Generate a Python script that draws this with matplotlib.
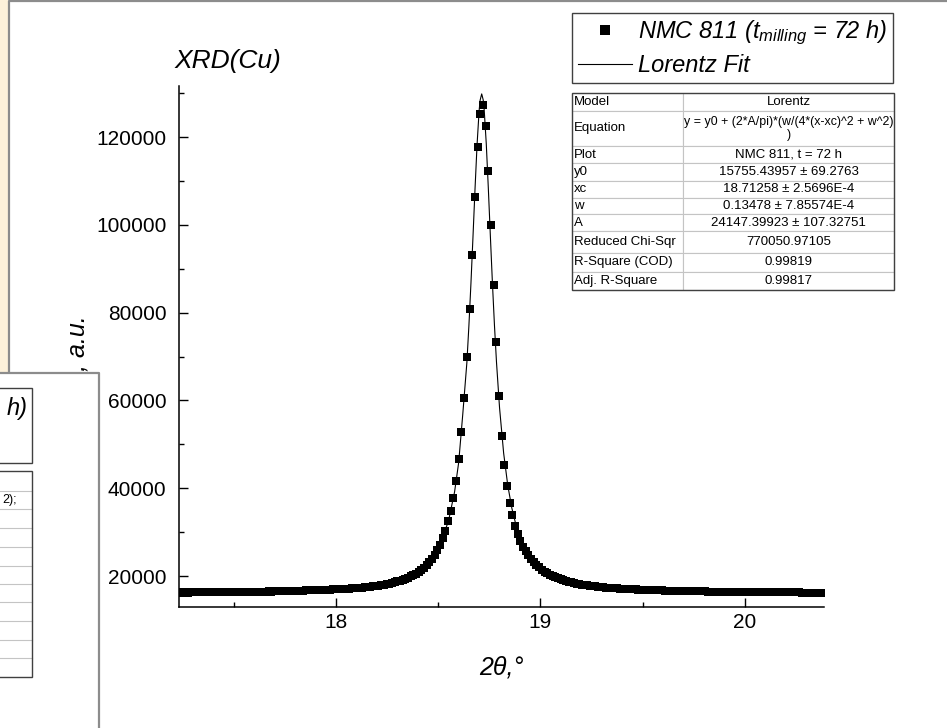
import matplotlib.pyplot as plt
from matplotlib.patches import Rectangle
from matplotlib.lines import Line2D
from matplotlib.ticker import MultipleLocator
import numpy as np

plt.rcParams['font.family'] = ['Liberation Sans', 'DejaVu Sans']
plt.rcParams['mathtext.fontset'] = 'custom'
plt.rcParams['mathtext.it'] = 'Liberation Sans:italic'
plt.rcParams['mathtext.rm'] = 'Liberation Sans'

W, H = 947, 728


def fx(px):
    return px / W


def fy(py):
    return 1 - py / H


# measured pattern, 2theta step of the scan
start_2theta = 17.2383
step_2theta = 0.0131
counts = [
    16250, 16240, 16260, 16230, 16270, 16250, 16280, 16260, 16270, 16290,
    16260, 16300, 16280, 16310, 16290, 16320, 16300, 16340, 16330, 16350,
    16330, 16370, 16360, 16380, 16370, 16400, 16390, 16420, 16410, 16440,
    16450, 16440, 16470, 16480, 16470, 16510, 16520, 16530, 16550, 16560,
    16570, 16600, 16610, 16620, 16650, 16660, 16690, 16700, 16720, 16750,
    16770, 16790, 16810, 16840, 16860, 16880, 16910, 16940, 16960, 16990,
    17020, 17050, 17090, 17130, 17170, 17220, 17270, 17320, 17380, 17440,
    17510, 17580, 17660, 17740, 17830, 17930, 18040, 18160, 18290, 18430,
    18580, 18750, 18940, 19140, 19360, 19610, 19900, 20220, 20560, 20960,
    21400, 21920, 22500, 23150, 23950, 24850, 25900, 27150, 28600, 30350,
    32450, 34880, 37770, 41700, 46650, 52900, 60600, 70000, 80900, 93100,
    106400, 117800, 125300, 127360, 122570, 112300, 99950, 86300, 73370, 61070,
    52000, 45400, 40400, 36700, 33800, 31500, 29600, 28000, 26700, 25600,
    24750, 23900, 23150, 22500, 21950, 21450, 21000, 20620, 20280, 19970,
    19700, 19450, 19230, 19030, 18850, 18690, 18540, 18400, 18280, 18160,
    18050, 17950, 17860, 17780, 17700, 17630, 17560, 17500, 17440, 17380,
    17330, 17280, 17230, 17190, 17150, 17110, 17070, 17030, 17000, 16970,
    16940, 16910, 16880, 16850, 16830, 16800, 16780, 16760, 16740, 16720,
    16700, 16680, 16660, 16650, 16630, 16610, 16600, 16590, 16570, 16560,
    16550, 16540, 16520, 16510, 16500, 16490, 16480, 16470, 16460, 16450,
    16440, 16430, 16420, 16420, 16410, 16400, 16390, 16380, 16380, 16370,
    16360, 16350, 16350, 16340, 16330, 16330, 16320, 16310, 16310, 16300,
    16300, 16290, 16290, 16280, 16280, 16270, 16270, 16260, 16260, 16250,
    16250, 16250, 16240, 16240, 16240, 16230, 16230, 16230, 16220, 16220,
    16220,
]
two_theta = np.round(start_2theta + step_2theta * np.arange(len(counts)), 4)

# Lorentz fit curve as drawn
fit_2theta = [17.232, 17.5, 17.75, 18.0, 18.2, 18.3, 18.4, 18.45, 18.5, 18.55,
              18.58, 18.6, 18.62, 18.64, 18.65, 18.66, 18.67, 18.68, 18.69, 18.70,
              18.705, 18.7126, 18.72, 18.725, 18.735, 18.745, 18.755, 18.765, 18.775, 18.785,
              18.80, 18.82, 18.84, 18.86, 18.88, 18.90, 18.95, 19.0, 19.1, 19.2,
              19.35, 19.5, 19.75, 20.0, 20.2, 20.387]
fit_counts = [15991, 16107, 16311, 16766, 17693, 18719, 20820, 22809, 26170, 32477,
              39169, 45839, 56821, 68548, 76984, 86635, 97251, 108187, 118286, 125965,
              128385, 129817, 128458, 126082, 118469, 108402, 97470, 86840, 77165, 68704,
              58284, 47977, 40693, 35475, 31662, 28816, 24261, 21700, 19105, 17895,
              17016, 16584, 16234, 16067, 15989, 15939]

fit_keys = ['Model', 'Equation', 'Plot', 'y0', 'xc', 'w', 'A',
            'Reduced Chi-Sqr', 'R-Square (COD)', 'Adj. R-Square']
fit_values = ['Lorentz',
              'y = y0 + (2*A/pi)*(w/(4*(x-xc)^2 + w^2)\n)',
              'NMC 811, t = 72 h',
              '15755.43957 ± 69.2763',
              '18.71258 ± 2.5696E-4',
              '0.13478 ± 7.85574E-4',
              '24147.39923 ± 107.32751',
              '770050.97105',
              '0.99819',
              '0.99817']
row_px = [18, 35, 17, 17.5, 17, 16.5, 17, 22, 19, 18]

fig = plt.figure(figsize=(9.47, 7.28), dpi=100)

# window chrome of the graph page
fig.add_artist(Rectangle((0, fy(373)), fx(8), 373 / H, transform=fig.transFigure,
                         facecolor='#fdf1da', edgecolor='none', zorder=1))
fig.add_artist(Line2D([fx(9), fx(9), fx(947)], [fy(373), fy(1), fy(1)],
                      transform=fig.transFigure, color='#8c8c8c', lw=1.6, zorder=1))

ax = fig.add_axes([fx(179), fy(607), fx(824) - fx(179), (607 - 86) / H])
fit_line, = ax.plot(fit_2theta, fit_counts, color='black', lw=0.8, zorder=2,
                    label='Lorentz Fit')
pts, = ax.plot(two_theta, counts, 's', color='black', ms=6, mew=0, zorder=3,
               label='NMC 811 ($t_{milling}$ = 72 h)')

ax.set_xlim(17.232, 20.387)
ax.set_ylim(12940, 131620)
ax.set_xticks([18, 19, 20])
ax.xaxis.set_minor_locator(MultipleLocator(0.5))
ax.set_yticks(np.arange(20000, 120001, 20000))
ax.yaxis.set_minor_locator(MultipleLocator(10000))
ax.tick_params(which='both', direction='in', width=1.0, labelsize=15)
ax.tick_params(which='major', length=6.5)
ax.tick_params(which='minor', length=3.6)
ax.tick_params(axis='y', pad=9)
ax.tick_params(axis='x', pad=4)
for s in ['top', 'right']:
    ax.spines[s].set_visible(False)
for s in ['left', 'bottom']:
    ax.spines[s].set_linewidth(1.1)

ax.set_xlabel('2θ,°', fontsize=18, style='italic')
ax.set_ylabel('I, a.u.', fontsize=18, style='italic')
ax.xaxis.set_label_coords(0.5, -0.094)
ax.yaxis.set_label_coords(-0.138, 0.5)

fig.text(fx(175), fy(68), 'XRD(Cu)', fontsize=19, style='italic', va='baseline')

leg = ax.legend(handles=[pts, fit_line], loc='upper left',
                bbox_to_anchor=(fx(572), fy(13)), bbox_transform=fig.transFigure,
                prop={'size': 17, 'style': 'italic'}, fancybox=False,
                edgecolor='#404040', framealpha=1, borderpad=0.25,
                handlelength=2.3, handletextpad=0.25, labelspacing=0.3,
                borderaxespad=0, markerscale=1.1)
leg.get_frame().set_linewidth(1.0)

# fit results table
tab_ax = fig.add_axes([fx(572), fy(290), fx(894) - fx(572), (290 - 93) / H])
tab_ax.axis('off')
tbl = tab_ax.table(cellText=[[k, v] for k, v in zip(fit_keys, fit_values)],
                   colWidths=[111, 211], cellLoc='center', bbox=[0, 0, 1, 1])
tbl.auto_set_font_size(False)
tbl.set_fontsize(9.5)
for (r, c), cell in tbl.get_celld().items():
    cell.set_height(row_px[r])
    cell.set_edgecolor('#c4c4c4')
    cell.set_linewidth(0.8)
    cell.PAD = 0.02
    if c == 0:
        cell.get_text().set_ha('left')
    if r == 1 and c == 1:
        cell.get_text().set_fontsize(8.9)
        cell.get_text().set_linespacing(1.05)
tab_ax.add_patch(Rectangle((0, 0), 1, 1, transform=tab_ax.transAxes, fill=False,
                           edgecolor='#404040', lw=1.0, clip_on=False, zorder=5))

# second graph window overlapping in the lower left
fig.add_artist(Rectangle((0, 0), fx(99), fy(373), transform=fig.transFigure,
                         facecolor='white', edgecolor='none', zorder=10))
fig.add_artist(Line2D([fx(0), fx(99), fx(99)], [fy(373), fy(373), fy(728)],
                      transform=fig.transFigure, color='#8c8c8c', lw=1.6, zorder=11))
fig.add_artist(Rectangle((fx(-20), fy(463)), fx(52), (463 - 388) / H,
                         transform=fig.transFigure, fill=False,
                         edgecolor='#404040', lw=1.0, zorder=11))
fig.text(fx(28), fy(415), 'h)', fontsize=17, style='italic', ha='right',
         va='baseline', zorder=12)
left_rows = [491, 509, 528, 547, 566, 584, 602, 621, 640, 658]
for yy in left_rows:
    fig.add_artist(Line2D([0, fx(32)], [fy(yy), fy(yy)], transform=fig.transFigure,
                          color='#c4c4c4', lw=0.8, zorder=11))
fig.add_artist(Rectangle((fx(-20), fy(677)), fx(52), (677 - 471) / H,
                         transform=fig.transFigure, fill=False,
                         edgecolor='#404040', lw=1.0, zorder=12))
fig.text(fx(17), fy(500), '2);', fontsize=9, ha='right', va='center', zorder=12)

fig.savefig('out.png', dpi=100)
